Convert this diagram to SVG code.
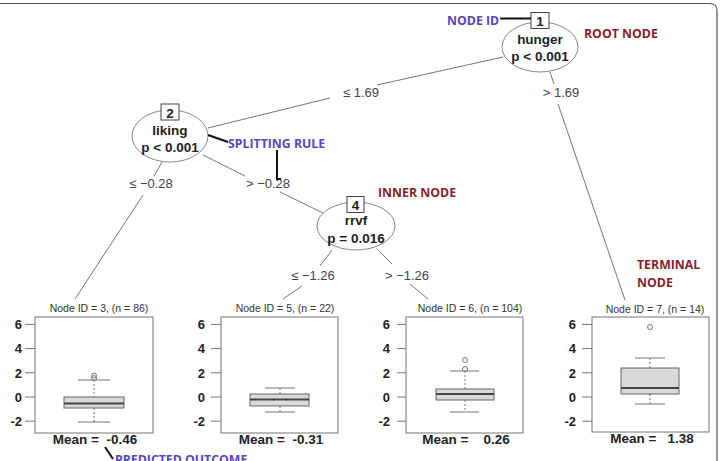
<svg xmlns="http://www.w3.org/2000/svg" width="720" height="461" viewBox="0 0 720 461">
<style>
.frame{fill:none;stroke:#555;stroke-width:1.2}
.edge{fill:none;stroke:#777;stroke-width:1}
.ell{fill:#fff;stroke:#888;stroke-width:1}
.idbox{fill:#fff;stroke:#444;stroke-width:1}
.nt{font-family:"Liberation Sans",Arial,sans-serif;font-weight:bold;font-size:13.5px;fill:#222;text-anchor:middle}
.el{font-family:"Liberation Sans",Arial,sans-serif;font-size:13px;fill:#444;text-anchor:middle}
.ttl{font-family:"Liberation Sans",Arial,sans-serif;font-size:10.5px;fill:#333;text-anchor:middle}
.tick{font-family:"Liberation Sans",Arial,sans-serif;font-weight:bold;font-size:13px;fill:#222;text-anchor:end}
.mean{font-family:"Liberation Sans",Arial,sans-serif;font-weight:bold;font-size:13.5px;fill:#222;text-anchor:middle;white-space:pre}
.pf{fill:none;stroke:#777;stroke-width:1}
.bx{fill:#d9d9d9;stroke:#666;stroke-width:1}
.med{stroke:#444;stroke-width:2}
.wh{stroke:#777;stroke-width:1;stroke-dasharray:2,2}
.cap{stroke:#777;stroke-width:1}
.out{fill:none;stroke:#777;stroke-width:1}
.blue{font-family:"Open Sans","Liberation Sans",sans-serif;font-weight:700;font-size:12.3px;fill:#5548b8}
.red{font-family:"Open Sans","Liberation Sans",sans-serif;font-weight:700;font-size:12.3px;fill:#8a1c2c}
.ann{stroke:#111;stroke-width:2;fill:none}
</style>
<rect width="720" height="461" fill="#fff"/>
<path class="frame" d="M0,3.5 H710 Q717,3.5 717,10.5 V461"/>

<g id="connectors">
<line class="edge" x1="503" y1="57" x2="377" y2="85"/>
<line class="edge" x1="330" y1="98" x2="208" y2="128"/>
<line class="edge" x1="550" y1="72" x2="554" y2="84"/>
<line class="edge" x1="558" y1="104" x2="625" y2="300"/>
<line class="edge" x1="162" y1="162" x2="154" y2="176"/>
<line class="edge" x1="143" y1="195" x2="75" y2="299"/>
<line class="edge" x1="203" y1="155" x2="245" y2="176"/>
<line class="edge" x1="280" y1="192" x2="323" y2="213"/>
<line class="edge" x1="332" y1="250" x2="320" y2="266"/>
<line class="edge" x1="302" y1="286" x2="283" y2="299"/>
<line class="edge" x1="378" y1="250" x2="392" y2="264"/>
<line class="edge" x1="410" y1="284" x2="428" y2="299"/>
<text class="el" x="361" y="97">≤ 1.69</text>
<text class="el" x="561" y="97">&gt; 1.69</text>
<text class="el" x="151" y="188">≤ −0.28</text>
<text class="el" x="268" y="188">&gt; −0.28</text>
<text class="el" x="313" y="280">≤ −1.26</text>
<text class="el" x="407" y="280">&gt; −1.26</text>
</g>

<g id="node1">
<ellipse class="ell" cx="540" cy="47" rx="38" ry="25"/>
<rect class="idbox" x="531" y="12.5" width="18" height="16"/>
<text class="nt" x="540" y="26">1</text>
<text class="nt" x="540" y="44">hunger</text>
<text class="nt" x="540" y="61">p &lt; 0.001</text>
</g>

<g id="node2">
<ellipse class="ell" cx="170" cy="136" rx="38" ry="26"/>
<rect class="idbox" x="161" y="104" width="18" height="16"/>
<text class="nt" x="170" y="117.5">2</text>
<text class="nt" x="170" y="135">liking</text>
<text class="nt" x="170" y="152">p &lt; 0.001</text>
</g>

<g id="node4">
<ellipse class="ell" cx="356" cy="226" rx="39" ry="24"/>
<rect class="idbox" x="347" y="196.5" width="17" height="16"/>
<text class="nt" x="355.5" y="210">4</text>
<text class="nt" x="356" y="225">rrvf</text>
<text class="nt" x="356" y="243">p = 0.016</text>
</g>

<g id="node3">
<text class="ttl" x="99" y="312">Node ID = 3, (n = 86)</text>
<rect class="pf" x="35" y="317" width="118" height="116"/>
<g class="cap"><line x1="25" y1="324.4" x2="35" y2="324.4"/><line x1="25" y1="348.6" x2="35" y2="348.6"/><line x1="25" y1="372.8" x2="35" y2="372.8"/><line x1="25" y1="397" x2="35" y2="397"/><line x1="25" y1="421.2" x2="35" y2="421.2"/></g>
<text class="tick" x="22" y="329">6</text><text class="tick" x="22" y="353">4</text><text class="tick" x="22" y="377.5">2</text><text class="tick" x="22" y="401.5">0</text><text class="tick" x="22" y="426">-2</text>
<line class="wh" x1="94" y1="380" x2="94" y2="397"/>
<line class="wh" x1="94" y1="408" x2="94" y2="422"/>
<line class="cap" x1="78" y1="380" x2="110" y2="380"/>
<line class="cap" x1="78" y1="422" x2="110" y2="422"/>
<rect class="bx" x="64" y="397" width="60" height="11"/>
<line class="med" x1="64" y1="403.5" x2="124" y2="403.5"/>
<circle class="out" cx="94" cy="375.5" r="2.5"/>
<circle class="out" cx="94" cy="378" r="2.5"/>
<text class="mean" x="95" y="444" xml:space="preserve">Mean =  -0.46</text>
</g>

<g id="node5">
<text class="ttl" x="285" y="312">Node ID = 5, (n = 22)</text>
<rect class="pf" x="221" y="317" width="117" height="116"/>
<g class="cap"><line x1="211" y1="324.4" x2="221" y2="324.4"/><line x1="211" y1="348.6" x2="221" y2="348.6"/><line x1="211" y1="372.8" x2="221" y2="372.8"/><line x1="211" y1="397" x2="221" y2="397"/><line x1="211" y1="421.2" x2="221" y2="421.2"/></g>
<text class="tick" x="205" y="329">6</text><text class="tick" x="205" y="353">4</text><text class="tick" x="205" y="377.5">2</text><text class="tick" x="205" y="401.5">0</text><text class="tick" x="205" y="426">-2</text>
<line class="wh" x1="280" y1="388" x2="280" y2="394"/>
<line class="wh" x1="280" y1="406" x2="280" y2="412"/>
<line class="cap" x1="265" y1="388" x2="295" y2="388"/>
<line class="cap" x1="265" y1="412" x2="295" y2="412"/>
<rect class="bx" x="250" y="394" width="59" height="12"/>
<line class="med" x1="250" y1="399.5" x2="309" y2="399.5"/>
<text class="mean" x="281" y="444" xml:space="preserve">Mean =  -0.31</text>
</g>

<g id="node6">
<text class="ttl" x="470" y="312">Node ID = 6, (n = 104)</text>
<rect class="pf" x="406" y="317" width="117" height="116"/>
<g class="cap"><line x1="397" y1="324.4" x2="406" y2="324.4"/><line x1="397" y1="348.6" x2="406" y2="348.6"/><line x1="397" y1="372.8" x2="406" y2="372.8"/><line x1="397" y1="397" x2="406" y2="397"/><line x1="397" y1="421.2" x2="406" y2="421.2"/></g>
<text class="tick" x="390" y="329">6</text><text class="tick" x="390" y="353">4</text><text class="tick" x="390" y="377.5">2</text><text class="tick" x="390" y="401.5">0</text><text class="tick" x="390" y="426">-2</text>
<line class="wh" x1="465" y1="371" x2="465" y2="389"/>
<line class="wh" x1="465" y1="400" x2="465" y2="412"/>
<line class="cap" x1="450" y1="371" x2="479" y2="371"/>
<line class="cap" x1="450" y1="412" x2="479" y2="412"/>
<rect class="bx" x="436" y="389" width="58" height="11"/>
<line class="med" x1="436" y1="394" x2="494" y2="394"/>
<circle class="out" cx="465" cy="360" r="2.5"/>
<circle class="out" cx="465" cy="369" r="2.5"/>
<text class="mean" x="466" y="444" xml:space="preserve">Mean =    0.26</text>
</g>

<g id="node7">
<text class="ttl" x="655" y="312.5">Node ID = 7, (n = 14)</text>
<rect class="pf" x="592" y="317" width="117" height="115"/>
<g class="cap"><line x1="582" y1="324.4" x2="592" y2="324.4"/><line x1="582" y1="348.6" x2="592" y2="348.6"/><line x1="582" y1="372.8" x2="592" y2="372.8"/><line x1="582" y1="397" x2="592" y2="397"/><line x1="582" y1="421.2" x2="592" y2="421.2"/></g>
<text class="tick" x="576" y="329">6</text><text class="tick" x="576" y="353">4</text><text class="tick" x="576" y="377.5">2</text><text class="tick" x="576" y="401.5">0</text><text class="tick" x="576" y="426">-2</text>
<line class="wh" x1="650" y1="358" x2="650" y2="368"/>
<line class="wh" x1="650" y1="394" x2="650" y2="404"/>
<line class="cap" x1="635" y1="358" x2="665" y2="358"/>
<line class="cap" x1="635" y1="404" x2="665" y2="404"/>
<rect class="bx" x="621" y="368" width="58" height="26"/>
<line class="med" x1="621" y1="388" x2="679" y2="388"/>
<circle class="out" cx="650" cy="327" r="2.5"/>
<text class="mean" x="652" y="443" xml:space="preserve">Mean =   1.38</text>
</g>

<g id="annotations">
<line class="ann" x1="500" y1="18.5" x2="531" y2="18.5"/>
<text class="blue" x="447" y="25">NODE ID</text>
<text class="red" x="584" y="38">ROOT NODE</text>
<line class="ann" x1="208" y1="135" x2="228" y2="142"/>
<text class="blue" x="228" y="148">SPLITTING RULE</text>
<path class="ann" d="M277,150 V179 H281"/>
<text class="red" x="378" y="197">INNER NODE</text>
<text class="red" x="637" y="269">TERMINAL</text>
<text class="red" x="637" y="287">NODE</text>
<line class="ann" x1="105" y1="447" x2="113" y2="459"/>
<text class="blue" x="115" y="464">PREDICTED OUTCOME</text>
</g>
</svg>
